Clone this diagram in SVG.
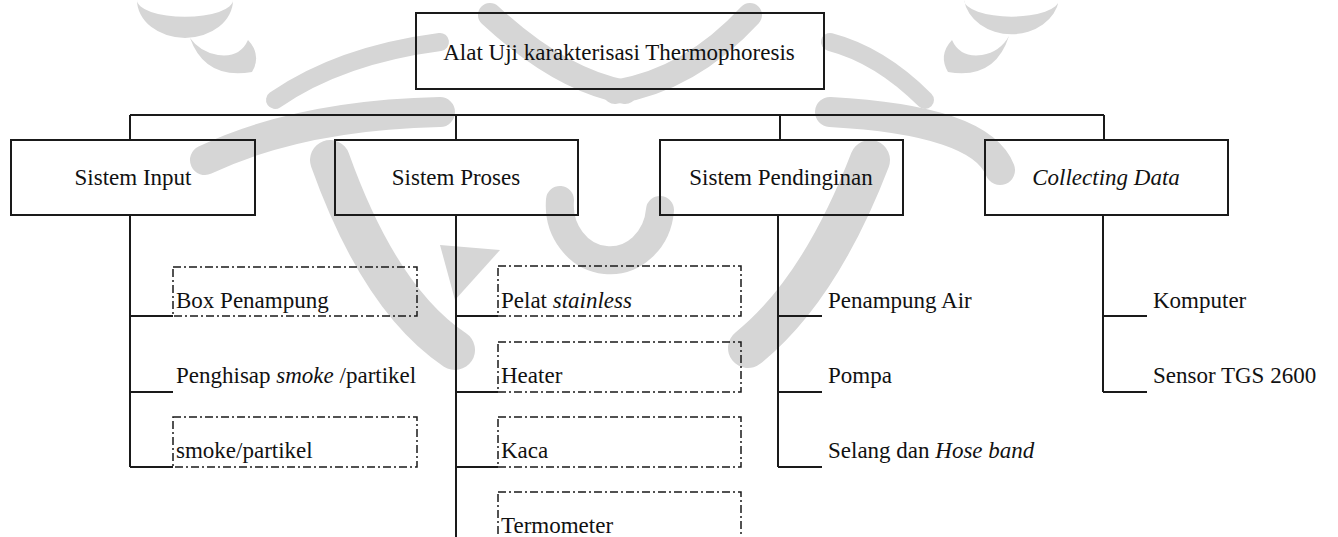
<svg xmlns="http://www.w3.org/2000/svg" width="1338" height="537" viewBox="0 0 1338 537">
<style>
  .wm { fill: #d6d6d6; stroke: none; }
  .wms { fill: none; stroke: #d6d6d6; stroke-linecap: round; }
  .box { fill: none; stroke: #1a1a1a; stroke-width: 2; }
  .dbox { fill: none; stroke: #1a1a1a; stroke-width: 1.5; stroke-dasharray: 8 3 2 3; }
  .ln { fill: none; stroke: #1a1a1a; stroke-width: 2; }
  text { font-family: "Liberation Serif", "Times New Roman", serif; font-size: 23px; fill: #111111; }
  .c { text-anchor: middle; }
  .i { font-style: italic; }
</style>
<rect width="1338" height="537" fill="#ffffff"/>
<g id="watermark">
  <path class="wm" d="M137,0 A48,38 0 0 0 233,0 A40,14 0 0 1 137,0 Z"/>
  <path class="wm" d="M190,38 Q205,80 252,72 Q262,55 248,40 Q240,58 218,55 Q200,52 190,38 Z"/>
  <path class="wm" d="M964,0 A48,40 0 0 0 1059,0 A40,14 0 0 1 964,0 Z"/>
  <path class="wm" d="M1009,36 Q995,80 948,72 Q938,55 952,40 Q960,58 982,55 Q1000,52 1009,36 Z"/>
  <path class="wms" stroke-width="18" d="M275,100 Q340,55 440,42"/>
  <path class="wms" stroke-width="30" d="M205,160 Q300,115 440,112"/>
  <path class="wms" stroke-width="18" d="M925,100 Q880,55 830,42"/>
  <path class="wms" stroke-width="30" d="M1000,170 Q980,120 830,112"/>
  <path class="wms" stroke-width="24" d="M490,15 Q560,80 625,92"/>
  <path class="wms" stroke-width="24" d="M750,15 Q690,80 615,92"/>
  <path class="wms" stroke-width="40" d="M330,160 Q380,300 455,350"/>
  <path class="wms" stroke-width="40" d="M870,160 Q820,290 748,348"/>
  <path class="wms" stroke-width="28" d="M560,200 A50,55 0 1 0 660,210"/>
  <path class="wm" d="M440,245 L500,250 L455,300 Z"/>
</g>
<g id="connectors">
  <path class="ln" d="M130,115 H1104"/>
  <path class="ln" d="M130,115 V140 M456,115 V140 M780,115 V140 M1104,115 V140"/>
  <path class="ln" d="M130,215 V467 M130,316 H173 M130,392 H173 M130,467 H173"/>
  <path class="ln" d="M456,215 V537 M456,316 H498 M456,392 H498 M456,467 H498"/>
  <path class="ln" d="M778,215 V467 M778,316 H822 M778,392 H822 M778,467 H822"/>
  <path class="ln" d="M1103,215 V392 M1103,316 H1147 M1103,392 H1147"/>
</g>
<g id="root">
  <rect class="box" x="416" y="13" width="408" height="76"/>
  <text class="c" x="619" y="60">Alat Uji karakterisasi Thermophoresis</text>
</g>
<g id="sistem-input">
  <rect class="box" x="11" y="140" width="244" height="75"/>
  <text class="c" x="133" y="185">Sistem Input</text>
</g>
<g id="sistem-proses">
  <rect class="box" x="335" y="140" width="243" height="75"/>
  <text class="c" x="456" y="185">Sistem Proses</text>
</g>
<g id="sistem-pendinginan">
  <rect class="box" x="660" y="140" width="243" height="75"/>
  <text class="c" x="781" y="185">Sistem Pendinginan</text>
</g>
<g id="collecting-data">
  <rect class="box" x="985" y="140" width="243" height="75"/>
  <text class="c i" x="1106" y="185" font-size="21">Collecting Data</text>
</g>
<g id="box-penampung">
  <rect class="dbox" x="173" y="267" width="244" height="49"/>
  <text x="176" y="308">Box Penampung</text>
</g>
<g id="penghisap">
  <text x="176" y="383">Penghisap <tspan class="i">smoke</tspan> /partikel</text>
</g>
<g id="smoke-partikel">
  <rect class="dbox" x="173" y="417" width="244" height="50"/>
  <text x="176" y="458">smoke/partikel</text>
</g>
<g id="pelat">
  <rect class="dbox" x="498" y="266" width="243" height="50"/>
  <text x="501" y="308">Pelat <tspan class="i">stainless</tspan></text>
</g>
<g id="heater">
  <rect class="dbox" x="498" y="342" width="243" height="50"/>
  <text x="501" y="383">Heater</text>
</g>
<g id="kaca">
  <rect class="dbox" x="498" y="417" width="243" height="50"/>
  <text x="501" y="458">Kaca</text>
</g>
<g id="termometer">
  <rect class="dbox" x="498" y="492" width="243" height="50"/>
  <text x="501" y="533">Termometer</text>
</g>
<g id="penampung-air">
  <text x="828" y="308">Penampung Air</text>
</g>
<g id="pompa">
  <text x="828" y="383">Pompa</text>
</g>
<g id="selang">
  <text x="828" y="458">Selang dan <tspan class="i">Hose band</tspan></text>
</g>
<g id="komputer">
  <text x="1153" y="308">Komputer</text>
</g>
<g id="sensor">
  <text x="1153" y="383">Sensor TGS 2600</text>
</g>
</svg>
